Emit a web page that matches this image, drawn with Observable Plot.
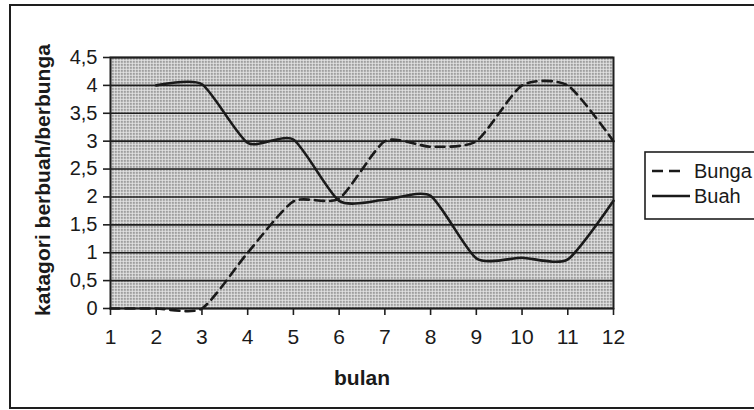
<!DOCTYPE html>
<html><head><meta charset="utf-8">
<script src="https://cdn.jsdelivr.net/npm/d3@7"></script>
<script src="https://cdn.jsdelivr.net/npm/@observablehq/plot@0.6"></script>
<style>
body{margin:0;background:#fff;}
#chart{position:relative;width:754px;height:410px;overflow:hidden;font-family:"Liberation Sans",Arial,sans-serif;}
</style>
</head><body>
<svg width="0" height="0" style="position:absolute">
  <defs>
    <pattern id="dots" width="3" height="3" patternUnits="userSpaceOnUse">
      <rect width="3" height="3" fill="#e8e8e8"></rect>
      <rect x="0.7" y="0.7" width="1.4" height="1.4" fill="#3a3a3a"></rect>
    </pattern>
  </defs>
</svg>
<div id="chart"></div>
<script>
const bulan = [1,2,3,4,5,6,7,8,9,10,11,12];
const bunga = [0,0,0,1.0,1.92,1.97,3.0,2.9,3.0,4.0,4.0,3.0];
const buah  = [null,4.0,4.02,2.97,3.03,1.93,1.95,2.02,0.9,0.91,0.88,1.93];
const yTicks = [0,0.5,1,1.5,2,2.5,3,3.5,4,4.5];
const seriesNames = ["Bunga","Buah"];
const xTitle = "bulan";
const yTitle = "katagori berbuah/berbunga";

const rowsBunga = bulan.map((m,i)=>({bulan:m, v:bunga[i]})).filter(d=>d.v!=null);
const rowsBuah  = bulan.map((m,i)=>({bulan:m, v:buah[i]})).filter(d=>d.v!=null);
const fmt = d => String(d).replace(".", ",");

const W = 754, H = 410;
const INK = "#1a1a1a";
const plot = Plot.plot({
  width: W, height: H,
  marginLeft: 110, marginRight: 141, marginTop: 57, marginBottom: 102,
  style: {fontFamily: '"Liberation Sans", Arial, sans-serif', fontSize: "20px", color: INK, background: "transparent"},
  x: {domain: [1,12], ticks: bulan},
  y: {domain: [0,4.5], ticks: yTicks},
  marks: [
    Plot.frame({fill: "url(#dots)", stroke: null}),
    Plot.ruleY(yTicks, {stroke: "#1e1e1e", strokeWidth: 1.6}),
    Plot.frame({stroke: "#1e1e1e", strokeWidth: 2}),
    Plot.axisX({ticks: bulan, tickSize: 7, tickPadding: 14, tickFormat: d=>String(d), label: null, stroke:"#1e1e1e", strokeWidth:1.6, fontSize: 21, fill: INK}),
    Plot.axisY({ticks: yTicks, tickSize: 7, tickPadding: 6, tickFormat: fmt, label: null, stroke:"#1e1e1e", strokeWidth:1.6, fontSize: 20, fill: INK}),
    Plot.line(rowsBunga, {x: "bulan", y: "v", curve: "cardinal", tension: 0.35, stroke: INK, strokeWidth: 2.6, strokeDasharray: "9,6"}),
    Plot.line(rowsBuah, {x: "bulan", y: "v", curve: "cardinal", tension: 0.35, stroke: INK, strokeWidth: 2.6})
  ]
});
document.getElementById("chart").appendChild(plot);

const svg = d3.select(plot).style("overflow","hidden");
// outer chart frame
svg.append("rect").attr("x",10).attr("y",5).attr("width",800).attr("height",403)
  .attr("fill","none").attr("stroke","#1e1e1e").attr("stroke-width",2);
// axis titles
svg.append("text").attr("x",362).attr("y",385).attr("text-anchor","middle")
  .attr("font-size",21).attr("font-weight","bold").attr("fill",INK).text(xTitle);
svg.append("text").attr("transform","translate(50,180) rotate(-90)").attr("text-anchor","middle")
  .attr("font-size",21).attr("font-weight","bold").attr("fill",INK).text(yTitle);
// legend
const lg = svg.append("g");
lg.append("rect").attr("x",645).attr("y",152).attr("width",200).attr("height",67)
  .attr("fill","#fff").attr("stroke","#1e1e1e").attr("stroke-width",1.6);
const items = [{name: seriesNames[0], dash: "11,6", y: 171, x2: 684}, {name: seriesNames[1], dash: null, y: 196, x2: 690}];
items.forEach(it=>{
  lg.append("line").attr("x1",652).attr("x2",it.x2).attr("y1",it.y).attr("y2",it.y)
    .attr("stroke",INK).attr("stroke-width",2.4).attr("stroke-dasharray",it.dash);
  lg.append("text").attr("x",694).attr("y",it.y+7).attr("text-anchor","start")
    .attr("font-size",20).attr("fill",INK).text(it.name);
});
</script>
</body></html>
